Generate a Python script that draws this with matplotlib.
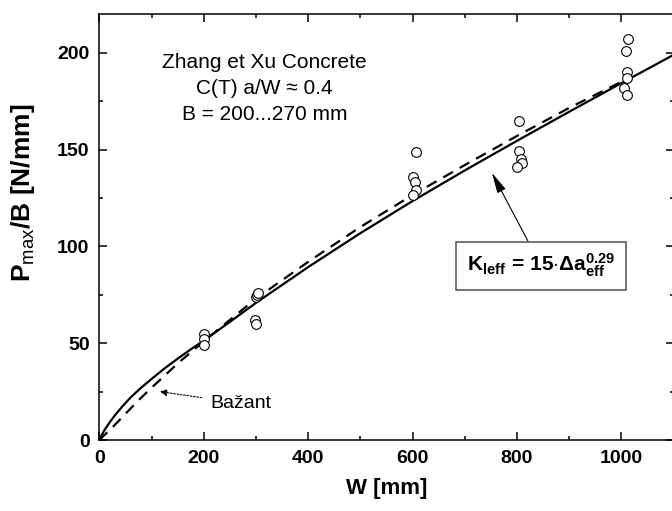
import matplotlib
matplotlib.use("Agg")
import matplotlib.pyplot as plt
from matplotlib.ticker import MultipleLocator

plt.rcParams["font.family"] = ["Liberation Sans", "DejaVu Sans"]
plt.rcParams["mathtext.fontset"] = "custom"
plt.rcParams["mathtext.rm"] = "Liberation Sans"
plt.rcParams["mathtext.bf"] = "Liberation Sans:bold"
plt.rcParams["mathtext.it"] = "Liberation Sans:italic"

# measured specimens, W [mm] and Pmax/B [N/mm]
w_data = [200, 200, 200, 300, 302, 304, 298, 300,
          600, 606, 604, 606, 600,
          804, 804, 807, 810, 800,
          1012, 1008, 1010, 1010, 1005, 1010]
p_data = [55, 52, 49, 74, 75, 76, 62, 60,
          136, 148.5, 133, 129, 126.5,
          164.5, 149, 145, 143, 141,
          207, 201, 190, 187, 182, 178]

# K_leff model curve (solid)
w_model = [0, 5, 10, 20, 30, 45, 60, 80, 100, 125, 150, 175, 200, 250, 300,
           400, 500, 600, 700, 800, 900, 1000, 1100]
p_model = [0, 2.8, 5.2, 9.2, 12.8, 17.6, 22, 27, 31.5, 37, 42, 46.8, 51.3, 61, 70.8,
           89.3, 106.8, 123.4, 139.2, 154.5, 169.5, 184.3, 198.9]

# Bazant size effect curve (dashed)
w_bazant = [0, 25, 50, 75, 100, 150, 200, 250, 300, 400, 500,
            600, 700, 800, 900, 1000]
p_bazant = [0, 6.5, 13.5, 20.5, 27, 39.5, 51, 62, 73, 92, 110,
            126.5, 142, 157, 171.5, 185]

fig = plt.figure(figsize=(6.72, 5.11), dpi=100)
ax = fig.add_axes([0.1478, 0.1389, 0.8545, 0.8337])

ax.plot(w_model, p_model, color="black", lw=1.6)
ax.plot(w_bazant, p_bazant, color="black", lw=1.6, dashes=(5, 3.5))
ax.plot(w_data, p_data, "o", mfc="white", mec="black", ms=7, mew=0.8)

ax.set_xlim(0, 1100)
ax.set_ylim(0, 220)
ax.xaxis.set_major_locator(MultipleLocator(200))
ax.xaxis.set_minor_locator(MultipleLocator(100))
ax.yaxis.set_major_locator(MultipleLocator(50))
ax.yaxis.set_minor_locator(MultipleLocator(25))
ax.tick_params(which="both", direction="in", top=True, right=True, width=1.1)
ax.tick_params(which="major", length=5.5, labelsize=14, pad=7)
ax.tick_params(which="minor", length=3)
for lab in ax.get_xticklabels() + ax.get_yticklabels():
    lab.set_fontweight("bold")
for sp in ax.spines.values():
    sp.set_linewidth(1.1)

ax.set_xlabel("W [mm]", fontsize=16, fontweight="bold", labelpad=8)
ax.set_ylabel(r"$\mathbf{P}_{\mathrm{max}}\mathbf{/B\ [N/mm]}$", fontsize=19)
ax.yaxis.set_label_coords(-0.108, 0.58)

ax.text(317, 194.8, "Zhang et Xu Concrete", ha="center", va="center", fontsize=15)
ax.text(317, 181.5, "C(T) a/W \u2248 0.4", ha="center", va="center", fontsize=15)
ax.text(317, 168.2, "B = 200...270 mm", ha="center", va="center", fontsize=15)

ax.annotate(r"$\mathbf{K}_{\mathbf{leff}}\mathbf{\,=\,15{\cdot}\Delta a}_{\mathbf{eff}}^{\mathbf{0.29}}$",
            xy=(752, 138), xytext=(846, 90), ha="center", va="center", fontsize=15,
            bbox=dict(boxstyle="square,pad=0.5", fc="white", ec="#505050", lw=1.1),
            arrowprops=dict(arrowstyle="-|>,head_length=0.9,head_width=0.2", color="black",
                            lw=0.8, mutation_scale=14, shrinkA=0, shrinkB=0))

ax.annotate("Ba\u017eant", xy=(116, 25), xytext=(212, 19), ha="left", va="center",
            fontsize=14,
            arrowprops=dict(arrowstyle="-|>", color="black", lw=0.8, ls=(0, (1.5, 1.5)),
                            mutation_scale=10, shrinkA=4, shrinkB=0))

fig.savefig("out.png", dpi=100)
